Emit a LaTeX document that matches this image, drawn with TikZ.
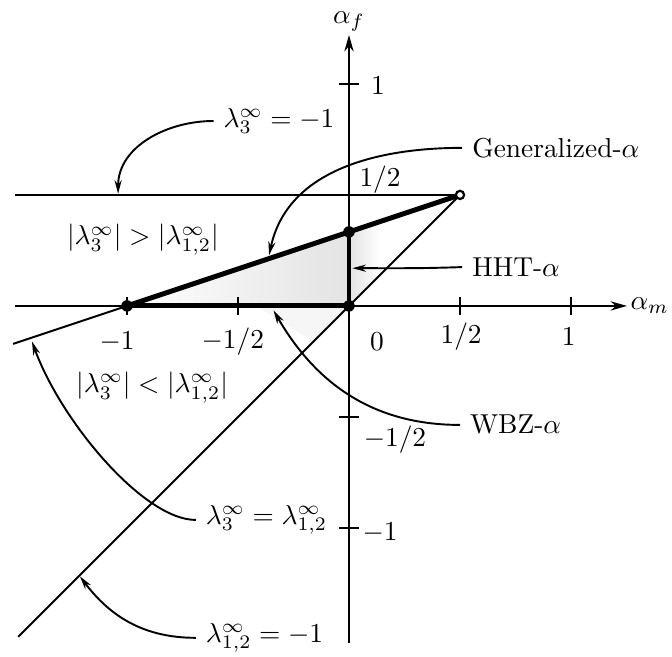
\documentclass[tikz,border=0pt]{standalone}
\usepackage{amsmath,amssymb}
\usetikzlibrary{positioning, arrows.meta, calc}

\begin{document}
\begin{tikzpicture}[x=2.85cm, y=2.85cm, line width=0.7pt,
    boldline/.style={line width=1.8pt},
    axisarrow/.style={-{Stealth[length=6pt,width=3.4pt]}},
    callout/.style={-{Stealth[length=5pt,width=2.6pt]}, line width=0.7pt},
    dot/.style={circle, fill, inner sep=0pt, minimum size=4.2pt}]
    \useasboundingbox (-1.572,-1.581) rectangle (1.455,1.378);

    % Stippled region
    \shade[left color=white, right color=gray!22] (-1,0) -- (0,1/3) -- (0,0) -- cycle;
    \shade[left color=gray!22, right color=white] (0,0) -- (0,1/3) -- (0.14,0.38) -- (0.14,0.14) -- cycle;
    \fill[gray!7] (-0.42,0) -- (0,0) -- (-0.16,-0.16) -- cycle;

    % Stability boundaries
    \coordinate (gen end) at (0.5,0.5);
    \draw (-1.505,0.5) -- (gen end);
    \draw (-1.49,-1.49) -- (gen end);
    \draw (-1.513,-0.171) -- (-1,0);

    % Axes
    \draw[axisarrow] (-1.505,0) -- (1.252,0) node[right, inner sep=1pt] (am) {$\alpha_m$};
    \draw[axisarrow] (0,-1.52) -- (0,1.22) node[above, inner sep=1pt] (af) {$\alpha_f$};

    % Ticks
    \foreach \x/\t/\lx/\ly in {-1/{$-1$}/-1.045/-0.162, -0.5/{$-1/2$}/-0.523/-0.162,
                               0.5/{$1/2$}/0.505/-0.14, 1/{$1$}/0.99/-0.14} {
        \draw (\x,0.04) -- (\x,-0.04);
        \node at (\lx,\ly) {\t};
    }
    \node at (0.126,-0.162) {$0$};
    \foreach \y/\t/\lx/\ly in {1/{$1$}/0.13/0.99, -0.5/{$-1/2$}/0.207/-0.604,
                               -1/{$-1$}/0.14/-1.02} {
        \draw (-0.043,\y) -- (0.043,\y);
        \node at (\lx,\ly) {\t};
    }
    \node at (0.14,0.568) {$1/2$};

    % Generalized-alpha family
    \draw[boldline] (-1,0) -- (gen end);
    \draw[boldline] (-1,0) -- (0,0) -- (0,1/3);
    \node[dot] (wbz pt) at (-1,0) {};
    \node[dot] (origin) at (0,0) {};
    \node[dot] (hht pt) at (0,1/3) {};
    \draw[fill=white, line width=0.8pt] (gen end) circle (1.5pt);

    % Region labels
    \node (upper) at (-0.928,0.297) {$|\lambda_3^\infty| > |\lambda_{1,2}^\infty|$};
    \node (lower) at (-0.887,-0.369) {$|\lambda_3^\infty| < |\lambda_{1,2}^\infty|$};

    % Callouts
    \node[anchor=west] (lam3) at (-0.61,0.833) {$\lambda_3^\infty = -1$};
    \node[anchor=west] (gen) at (0.51,0.712) {Generalized-$\alpha$};
    \node[anchor=west] (hht) at (0.51,0.175) {HHT-$\alpha$};
    \node[anchor=west] (wbz) at (0.50,-0.536) {WBZ-$\alpha$};
    \node[anchor=west] (lameq) at (-0.69,-0.964) {$\lambda_3^\infty = \lambda_{1,2}^\infty$};
    \node[anchor=west] (lam12) at (-0.69,-1.495) {$\lambda_{1,2}^\infty = -1$};

    \coordinate (tip lam3) at (-1.04,0.505);
    \coordinate (tip gen) at (-0.36,0.228);
    \coordinate (tip hht) at (0.015,0.17);
    \coordinate (tip wbz) at (-0.34,-0.02);
    \coordinate (tip lameq) at (-1.428,-0.16);
    \coordinate (tip lam12) at (-1.212,-1.218);

    \draw[callout] (lam3.west) to[out=180, in=90] (tip lam3);
    \draw[callout] (gen.west) to[out=180, in=78] (tip gen);
    \draw[callout] (hht.west) to[out=182, in=0] (tip hht);
    \draw[callout] (wbz.west) to[out=180, in=-60] (tip wbz);
    \draw[callout] (lameq.west) to[out=180, in=-70, out looseness=0.55, in looseness=0.9] (tip lameq);
    \draw[callout] (lam12.west) to[out=180, in=-53] (tip lam12);
\end{tikzpicture}
\end{document}
